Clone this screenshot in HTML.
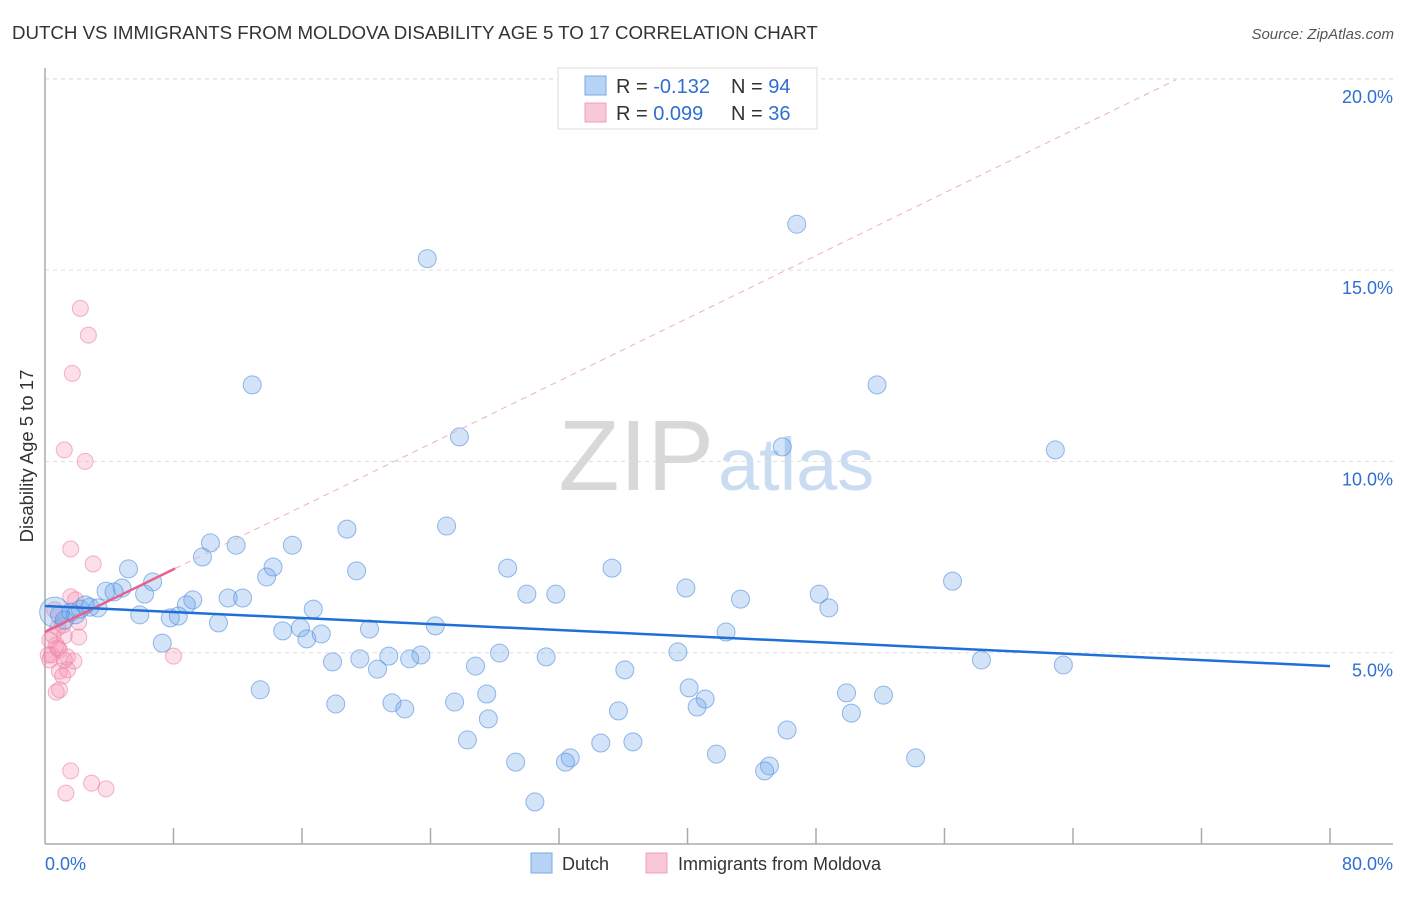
<!DOCTYPE html>
<html><head><meta charset="utf-8"><style>
body{margin:0;background:#fff;font-family:"Liberation Sans",sans-serif;}
svg text{font-family:"Liberation Sans",sans-serif;}
</style></head><body>
<svg id="chart" width="1406" height="892" viewBox="0 0 1406 892" xmlns="http://www.w3.org/2000/svg">
<text x="12" y="39" font-size="18.7" fill="#333">DUTCH VS IMMIGRANTS FROM MOLDOVA DISABILITY AGE 5 TO 17 CORRELATION CHART</text>
<text x="1394" y="39" font-size="15" fill="#555" text-anchor="end" font-style="italic">Source: ZipAtlas.com</text>
<text x="714" y="490" font-size="100" fill="#d8d8d8" text-anchor="end" font-family="Liberation Serif">ZIP</text>
<text x="718" y="490" font-size="74" fill="#c9dcf2">atlas</text>
<g id="grid"></g>
<g id="axes"></g>
<g id="pink"></g>
<g id="blue"></g>
<g id="lines"></g>
<text transform="translate(33,456) rotate(-90)" font-size="18.5" fill="#333" text-anchor="middle">Disability Age 5 to 17</text>
<g>
<rect x="558" y="68" width="259" height="61" fill="#fff" stroke="#ddd"/>
<rect x="585" y="76" width="21" height="19" fill="#b7d3f5" stroke="#7aaae6"/>
<rect x="585" y="103" width="21" height="19" fill="#f9c8d6" stroke="#f0a0b8"/>
<text x="616" y="93" font-size="20" fill="#333">R = <tspan fill="#2f6fd0">-0.132</tspan></text>
<text x="731" y="93" font-size="20" fill="#333">N = <tspan fill="#2f6fd0">94</tspan></text>
<text x="616" y="120" font-size="20" fill="#333">R = <tspan fill="#2f6fd0"> 0.099</tspan></text>
<text x="731" y="120" font-size="20" fill="#333">N = <tspan fill="#2f6fd0">36</tspan></text>
</g>
<g>
<rect x="531" y="853" width="21" height="20" fill="#b7d3f5" stroke="#7aaae6"/>
<text x="562" y="870" font-size="18" fill="#333">Dutch</text>
<rect x="646" y="853" width="21" height="20" fill="#f9c8d6" stroke="#f0a0b8"/>
<text x="678" y="870" font-size="18" fill="#333">Immigrants from Moldova</text>
</g>
</svg>
<script>
const yTicks=[5,10,15,20];
const xTickCount=10;
const blueX=[46.8,23.8,12.9,51.8,25.8,45.9,62.9,18.8,25.0,10.3,11.9,15.4,9.8,14.2,13.8,19.4,28.8,35.3,5.2,6.7,39.9,56.5,30.0,31.8,48.2,43.3,48.8,3.8,4.8,4.3,6.2,9.2,8.8,11.4,12.3,16.7,7.8,8.3,5.9,10.8,24.3,14.8,15.9,16.3,17.2,20.2,42.4,7.3,39.4,28.3,31.2,23.4,22.7,21.4,19.6,17.9,20.7,26.8,36.1,58.3,63.4,13.4,40.1,27.5,49.9,52.2,41.1,40.6,18.1,21.6,22.4,25.5,35.7,50.2,27.6,46.2,26.3,34.6,36.6,41.8,32.7,32.4,54.2,29.3,45.1,44.8,30.5,0.6,0.9,1.6,1.9,2.2,2.8,3.3,2.5,1.2];
const blueY=[16.2,15.3,12.0,12.0,10.64,10.38,10.3,8.23,8.31,7.87,7.81,7.81,7.5,7.24,6.98,7.14,7.21,7.21,7.19,6.85,6.69,6.87,6.53,6.53,6.53,6.4,6.17,6.61,6.69,6.59,6.53,6.38,6.25,6.43,6.43,6.14,5.91,5.96,5.99,5.78,5.70,5.57,5.65,5.36,5.49,5.62,5.54,5.25,5.02,4.99,4.89,4.94,4.84,4.91,4.84,4.76,4.57,4.65,4.55,4.81,4.68,4.03,4.08,3.92,3.95,3.89,3.79,3.58,3.66,3.69,3.53,3.71,3.48,3.42,3.27,2.98,2.72,2.64,2.67,2.35,2.25,2.14,2.25,2.14,2.04,1.91,1.10,6.06,5.99,6.06,5.99,6.14,6.19,6.17,6.25,5.85];
const pinkX=[2.2,2.7,1.7,1.2,2.5,1.6,3.0,1.6,1.9,0.6,0.8,1.2,2.1,0.3,0.7,0.4,0.9,1.4,1.8,0.9,1.4,1.1,0.9,0.7,8.0,2.1,1.6,1.3,2.9,3.8,0.2,0.5,1.1,0.3,1.2,0.8];
const pinkY=[14.0,13.3,12.3,10.3,10.0,7.71,7.32,6.46,6.38,6.12,5.65,5.44,5.41,5.33,5.2,4.94,5.07,4.89,4.78,4.52,4.55,4.39,4.03,3.97,4.91,5.8,1.91,1.33,1.59,1.44,4.94,5.46,5.72,4.81,4.81,5.12];
const blueTrend=[6.22,4.65];
const pinkTrend={a:5.54,b:0.205,solidEnd:8.1,dashEnd:70.4};
const NS="http://www.w3.org/2000/svg";
const X=v=>45+v/80*1285, Y=v=>844-v*38.26;
function mk(t,p,a){const e=document.createElementNS(NS,t);for(const k in a)e.setAttribute(k,a[k]);p.appendChild(e);return e;}
const grid=document.getElementById('grid'),axes=document.getElementById('axes');
const gTop=mk('line',grid,{x1:45,x2:1393,y1:79,y2:79,stroke:'#ddd','stroke-dasharray':'4,4'});


yTicks.forEach(t=>{
 const l=mk('line',grid,{x1:45,x2:1393,y1:Y(t),y2:Y(t),stroke:'#ddd','stroke-dasharray':'4,4'});
 
 
 const tx=mk('text',grid,{x:1393,y:Y(t)+24,'font-size':18,fill:'#2f6fd0','text-anchor':'end'});
 tx.textContent=t.toFixed(1)+'%';
 
 
});
mk('line',axes,{x1:45,x2:45,y1:68,y2:844,stroke:'#aaa','stroke-width':1.5});
mk('line',axes,{x1:45,x2:1393,y1:844,y2:844,stroke:'#aaa','stroke-width':1.5});
for(let i=1;i<=xTickCount;i++){const x=X(i*8);mk('line',axes,{x1:x,x2:x,y1:828,y2:844,stroke:'#aaa','stroke-width':1.5});}
const l0=mk('text',axes,{x:45,y:870,'font-size':18,fill:'#2f6fd0'});l0.textContent='0.0%';


const l1=mk('text',axes,{x:1393,y:870,'font-size':18,fill:'#2f6fd0','text-anchor':'end'});l1.textContent='80.0%';


const pg=document.getElementById('pink');
pinkX.forEach((v,i)=>{const c=mk('circle',pg,{cx:X(v),cy:Y(pinkY[i]),r:8,fill:'rgba(245,150,180,0.3)',stroke:'rgba(235,130,165,0.6)','stroke-width':1});

});
const bg=document.getElementById('blue');
blueX.forEach((v,i)=>{const c=mk('circle',bg,{cx:X(v),cy:Y(blueY[i]),r:(i==blueX.length-9)?15:9,fill:'rgba(110,165,235,0.3)',stroke:'rgba(80,140,220,0.6)','stroke-width':1});

});
const lg=document.getElementById('lines');
const pd=mk('line',lg,{x1:X(pinkTrend.solidEnd),y1:Y(pinkTrend.a+pinkTrend.b*pinkTrend.solidEnd),x2:X(pinkTrend.dashEnd),y2:Y(pinkTrend.a+pinkTrend.b*pinkTrend.dashEnd),stroke:'#eab0c4','stroke-width':1,'stroke-dasharray':'6,5'});


const ps=mk('line',lg,{x1:X(0),y1:Y(pinkTrend.a),x2:X(pinkTrend.solidEnd),y2:Y(pinkTrend.a+pinkTrend.b*pinkTrend.solidEnd),stroke:'#e8608e','stroke-width':2.5});


const bl=mk('line',lg,{x1:X(0),y1:Y(blueTrend[0]),x2:X(80),y2:Y(blueTrend[1]),stroke:'#1f6fd6','stroke-width':2.5});


</script>
</body></html>
